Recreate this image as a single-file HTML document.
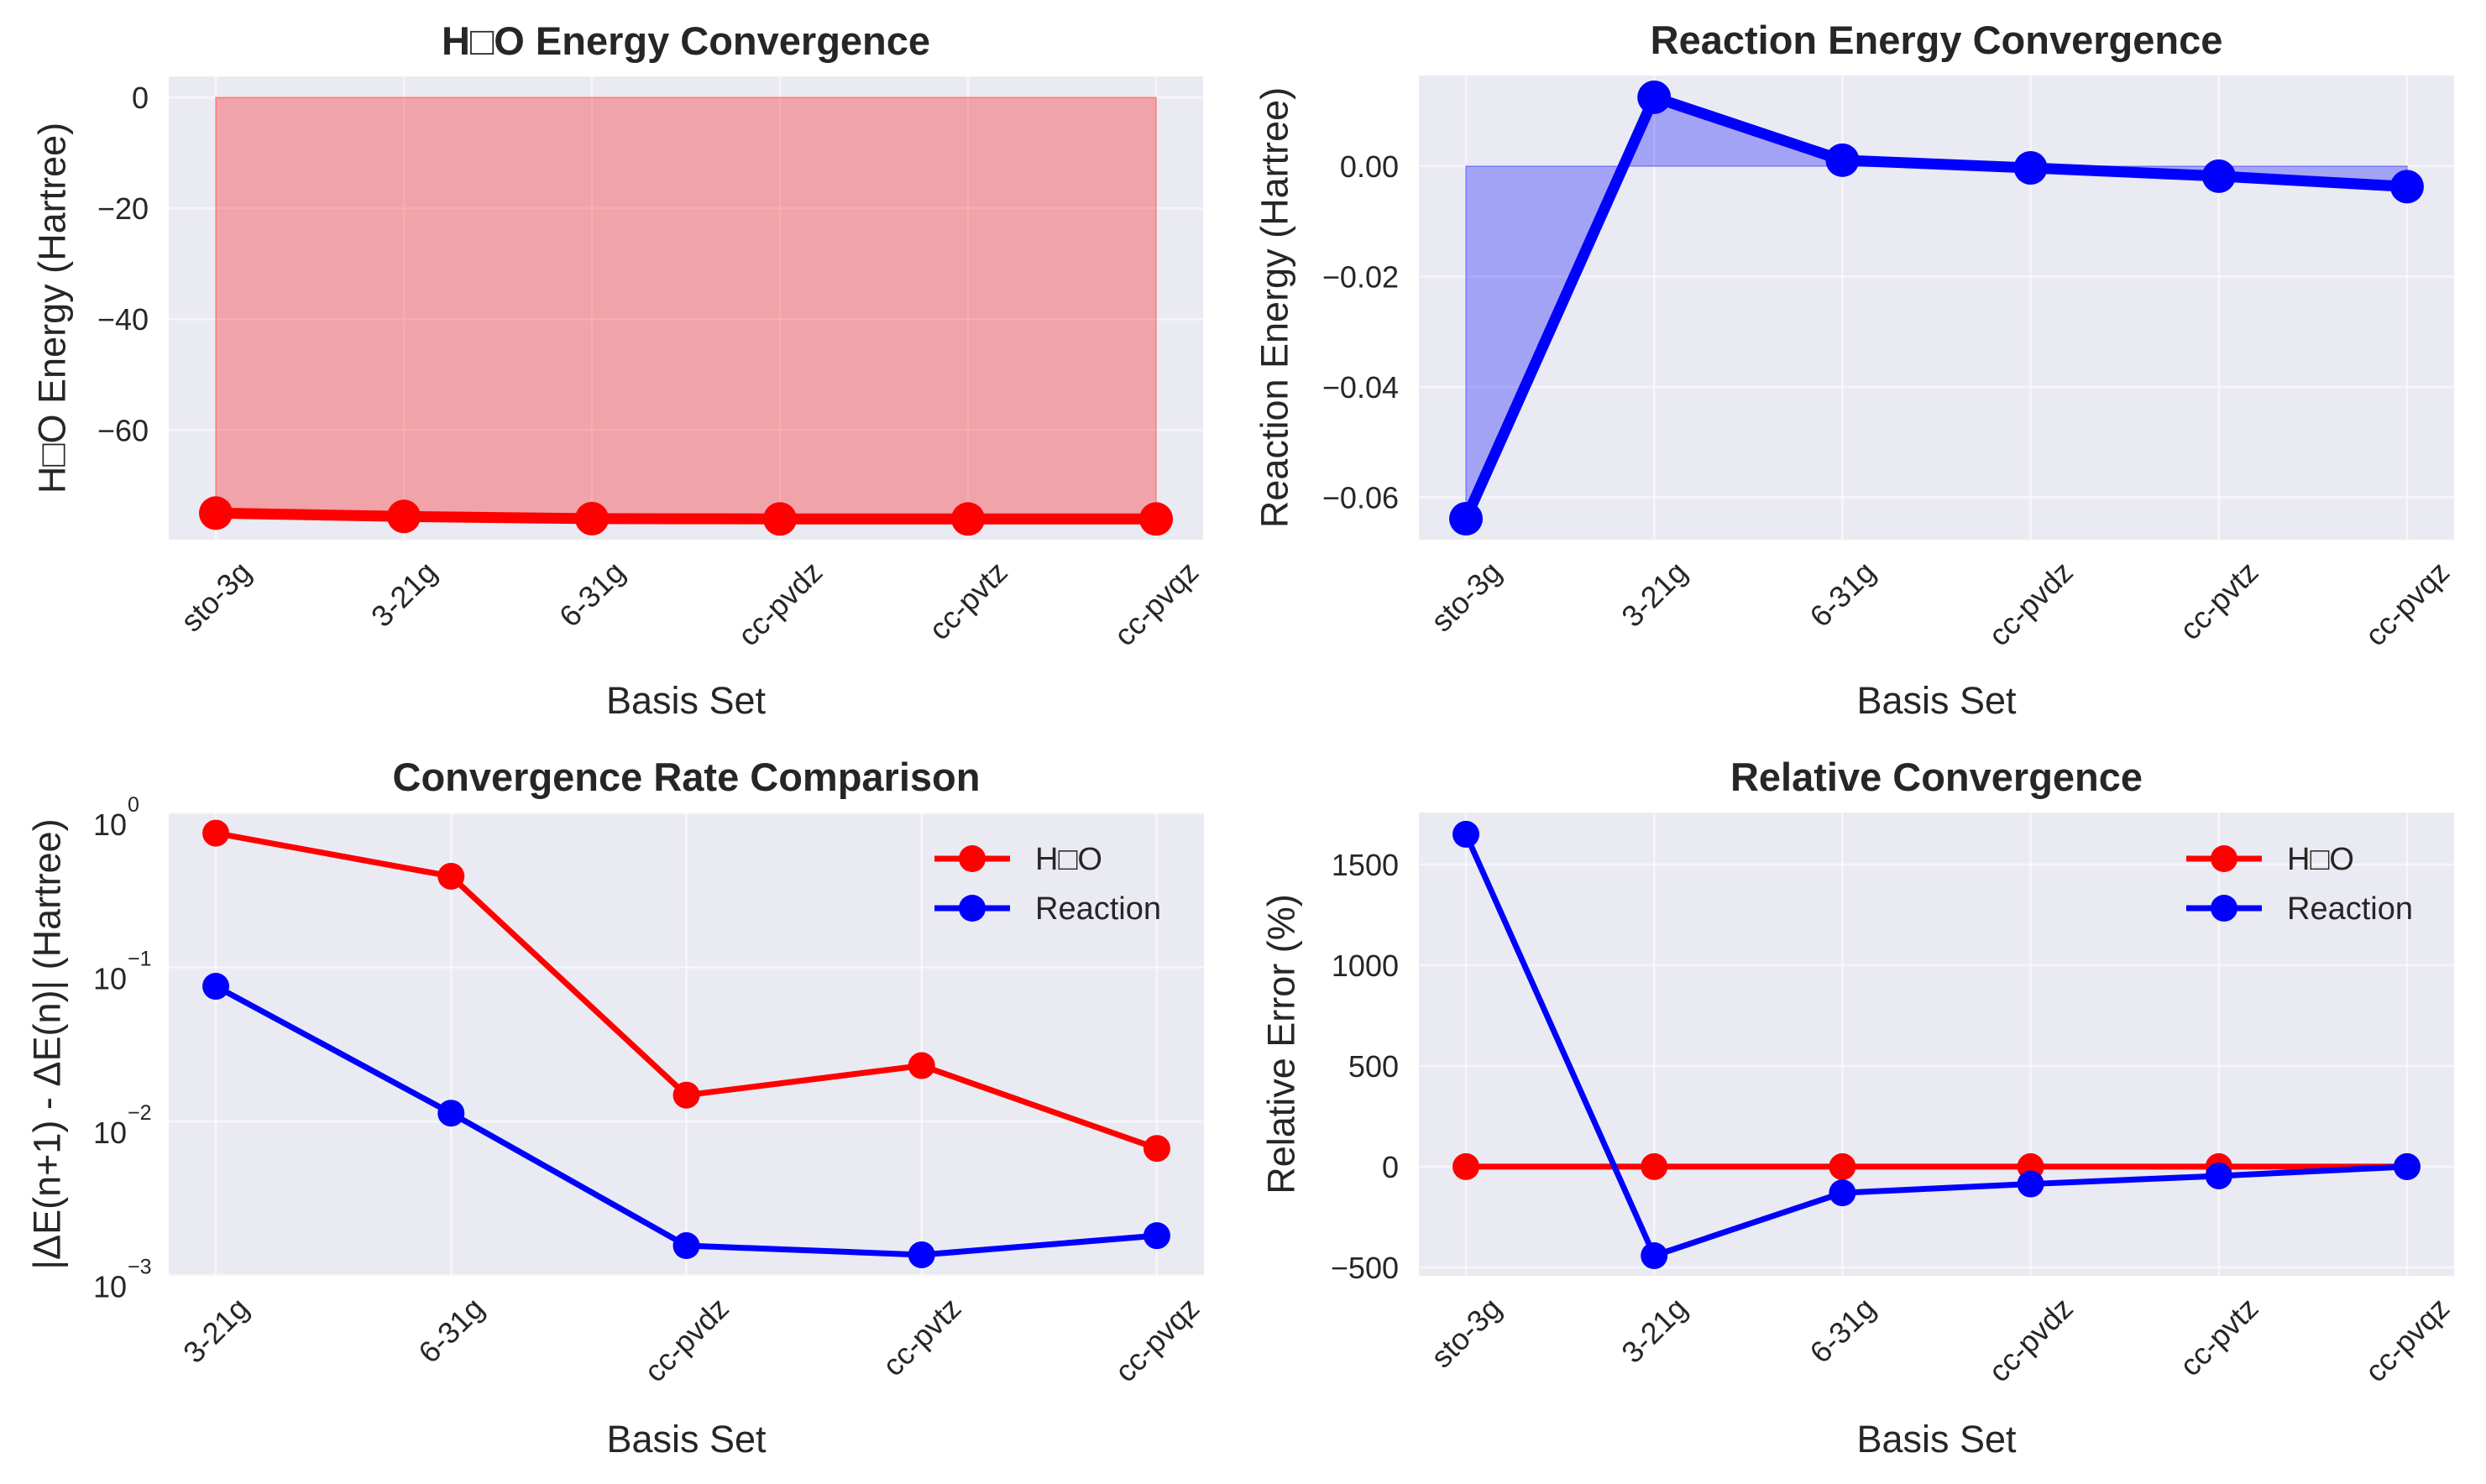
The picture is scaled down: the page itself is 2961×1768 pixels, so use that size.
<!DOCTYPE html>
<html><head><meta charset="utf-8">
<style>
html,body{margin:0;padding:0;background:#fff;}
svg{display:block;font-family:"Liberation Sans","DejaVu Sans",sans-serif;}
</style></head>
<body>
<svg id="fig" xmlns="http://www.w3.org/2000/svg" width="2961" height="1768" viewBox="0 0 2961 1768"></svg>
<script>
// ---- data ----
const basisSets = ["sto-3g","3-21g","6-31g","cc-pvdz","cc-pvtz","cc-pvqz"];
const rateBasis = ["3-21g","6-31g","cc-pvdz","cc-pvtz","cc-pvqz"];
const h2oEnergy = [-75.0, -75.6, -76.0, -76.05, -76.06, -76.06];
const reactionEnergy = [-0.0639, 0.0125, 0.0011, -0.0003, -0.0018, -0.0037];
const h2oRate = [0.743, 0.39, 0.0148, 0.023, 0.00667];
const reactionRate = [0.0753, 0.0113, 0.00156, 0.00136, 0.00181];
const h2oRelErr = [0, 0, 0, 0, 0, 0];
const reactionRelErr = [1650, -442, -130, -86, -46, 0];
const p1Ticks = [0, -20, -40, -60];
const p1TickLabels = ["0", "\u221220", "\u221240", "\u221260"];
const p2Ticks = [0, -0.02, -0.04, -0.06];
const p2TickLabels = ["0.00", "\u22120.02", "\u22120.04", "\u22120.06"];
const p3Exps = [0, -1, -2, -3];
const p4Ticks = [1500, 1000, 500, 0, -500];
const p4TickLabels = ["1500", "1000", "500", "0", "\u2212500"];

const NS = "http://www.w3.org/2000/svg";
const svg = document.getElementById("fig");
function el(tag, attrs, parent){
  const e = document.createElementNS(NS, tag);
  for (const k in attrs) e.setAttribute(k, attrs[k]);
  (parent||svg).appendChild(e);
  return e;
}
const TXT = "#262626";
const TICK = 36, LAB = 45, TIT = 47;

function makePanel(cfg){
  const g = el("g", {});
  
  
  const bg = el("rect", {x:cfg.L, y:cfg.T, width:cfg.R-cfg.L, height:cfg.B-cfg.T, fill:"#eaeaf2"}, g);
  
  
  const xs = i => cfg.L + (i - cfg.x0) / (cfg.x1 - cfg.x0) * (cfg.R - cfg.L);
  const ys = v => {
    const t = cfg.log ? Math.log10(v) : v;
    return cfg.B - (t - cfg.y0) / (cfg.y1 - cfg.y0) * (cfg.B - cfg.T);
  };
  cfg.cats.forEach((c,i)=>{
    const l = el("line",{x1:xs(i),x2:xs(i),y1:cfg.T,y2:cfg.B,stroke:"#fff","stroke-width":2.5,opacity:0.6},g);
    
    
  });
  cfg.yticks.forEach((v,i)=>{
    const y = ys(v);
    const l = el("line",{x1:cfg.L,x2:cfg.R,y1:y,y2:y,stroke:"#fff","stroke-width":2.5,opacity:0.6},g);
    
    
    if (cfg.log){
      const t = el("text",{x:cfg.L-50,y:y+26,"text-anchor":"end","font-size":TICK,fill:TXT},g);
      t.textContent = "10";
      
      
      const s = el("text",{x:cfg.L-49,y:y-2,"text-anchor":"start","font-size":25,fill:TXT},g);
      s.textContent = v >= 1 ? "0" : "\u2212" + Math.round(-Math.log10(v));
      
      
    } else {
      const t = el("text",{x:cfg.L-24,y:y+13,"text-anchor":"end","font-size":TICK,fill:TXT},g);
      t.textContent = cfg.ylabels[i];
      
      
    }
  });
  cfg.cats.forEach((c,i)=>{
    const t = el("text",{x:0,y:0,"text-anchor":"middle","dominant-baseline":"central","font-size":TICK,fill:TXT},g);
    t.textContent = c;
    
    
    const w = t.getComputedTextLength();
    const hb = (w + TICK*0.8) * 0.7071;
    const cx = xs(i), cy = cfg.B + 22 + hb/2;
    t.setAttribute("transform", `translate(${cx},${cy}) rotate(-45)`);
  });
  if (cfg.fill){
    let d = `M${xs(0)},${ys(0)}`;
    cfg.fill.vals.forEach((v,i)=>{ d += ` L${xs(i)},${ys(v)}`; });
    d += ` L${xs(cfg.fill.vals.length-1)},${ys(0)} Z`;
    const f = el("path",{d:d,fill:cfg.fill.color,"fill-opacity":0.3,stroke:cfg.fill.color,"stroke-opacity":0.3,"stroke-width":2},g);
    
    
  }
  cfg.series.forEach(s=>{
    const pts = s.vals.map((v,i)=>`${xs(i)},${ys(v)}`).join(" ");
    const pl = el("polyline",{points:pts,fill:"none",stroke:s.color,"stroke-width":cfg.lw,"stroke-linejoin":"round"},g);
    
    
    s.vals.forEach((v,i)=>{
      const c = el("circle",{cx:xs(i),cy:ys(v),r:cfg.mr,fill:s.color},g);
      
      
    });
  });
  if (cfg.legend){
    cfg.series.forEach((s,k)=>{
      const y = cfg.legend.y + k*59;
      const ln = el("line",{x1:cfg.legend.x,x2:cfg.legend.x+90,y1:y,y2:y,stroke:s.color,"stroke-width":cfg.lw},g);
      
      
      const c = el("circle",{cx:cfg.legend.x+45,cy:y,r:cfg.mr,fill:s.color},g);
      
      
      const t = el("text",{x:cfg.legend.x+120,y:y+13,"font-size":38,fill:TXT},g);
      t.textContent = s.label;
      
      
    });
  }
  const mid = (cfg.L+cfg.R)/2;
  const tt = el("text",{x:mid,y:cfg.T-26,"text-anchor":"middle","font-size":TIT,"font-weight":"bold",fill:TXT},g);
  tt.textContent = cfg.title;
  
  
  const xl = el("text",{x:mid,y:cfg.B+cfg.xlo,"text-anchor":"middle","font-size":LAB,fill:TXT},g);
  xl.textContent = "Basis Set";
  
  
  const ymid = (cfg.T+cfg.B)/2;
  const yl = el("text",{x:0,y:0,"text-anchor":"middle","dominant-baseline":"central","font-size":LAB,fill:TXT,transform:`translate(${cfg.ylx},${ymid}) rotate(-90)`},g);
  yl.textContent = cfg.ylabel;
  
  
}

makePanel({name:"h2o-energy-panel",L:201,R:1433,T:91,B:643,x0:-0.25,x1:5.25,y0:-79.8,y1:3.8,
  cats:basisSets,yticks:p1Ticks,ylabels:p1TickLabels,lw:13,mr:20,xlo:207,
  fill:{vals:h2oEnergy,color:"#ff0000"},
  series:[{name:"h2o",label:"H\u25A1O",color:"#ff0000",vals:h2oEnergy}],
  title:"H\u25A1O Energy Convergence",ylabel:"H\u25A1O Energy (Hartree)",ylx:62});

makePanel({name:"reaction-energy-panel",L:1690,R:2923,T:90,B:643,x0:-0.25,x1:5.25,y0:-0.0677,y1:0.01644,
  cats:basisSets,yticks:p2Ticks,ylabels:p2TickLabels,lw:13,mr:20,xlo:207,
  fill:{vals:reactionEnergy,color:"#0000ff"},
  series:[{name:"reaction",label:"Reaction",color:"#0000ff",vals:reactionEnergy}],
  title:"Reaction Energy Convergence",ylabel:"Reaction Energy (Hartree)",ylx:1518});

makePanel({name:"convergence-rate-panel",L:201,R:1434,T:968,B:1520,x0:-0.2,x1:4.2,y0:-3.003,y1:0.005,log:true,
  cats:rateBasis,yticks:p3Exps.map(e=>Math.pow(10,e)),lw:7,mr:16,xlo:210,
  legend:{x:1113,y:1023},
  series:[{name:"h2o",label:"H\u25A1O",color:"#ff0000",vals:h2oRate},
          {name:"reaction",label:"Reaction",color:"#0000ff",vals:reactionRate}],
  title:"Convergence Rate Comparison",ylabel:"|\u0394E(n+1) - \u0394E(n)| (Hartree)",ylx:56});

makePanel({name:"relative-convergence-panel",L:1690,R:2923,T:968,B:1520,x0:-0.25,x1:5.25,y0:-542,y1:1758,
  cats:basisSets,yticks:p4Ticks,ylabels:p4TickLabels,lw:7,mr:16,xlo:210,
  legend:{x:2604,y:1023},
  series:[{name:"h2o",label:"H\u25A1O",color:"#ff0000",vals:h2oRelErr},
          {name:"reaction",label:"Reaction",color:"#0000ff",vals:reactionRelErr}],
  title:"Relative Convergence",ylabel:"Relative Error (%)",ylx:1526});
</script>
</body></html>
